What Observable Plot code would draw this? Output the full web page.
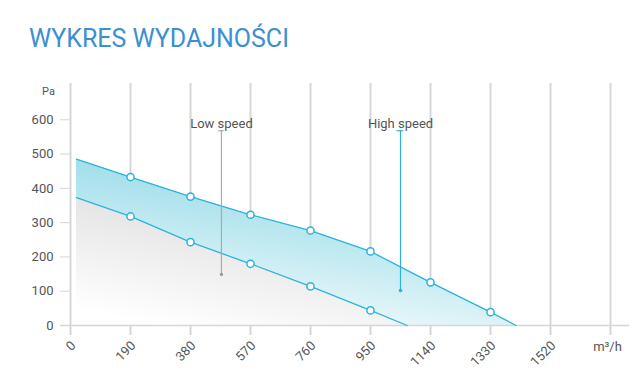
<!DOCTYPE html>
<html>
<head>
<meta charset="utf-8">
<script src="https://cdn.jsdelivr.net/npm/d3@7"></script>
<script src="https://cdn.jsdelivr.net/npm/@observablehq/plot@0.6"></script>
<style>
  html, body { margin: 0; padding: 0; background: #fff; }
  #wrap { position: relative; width: 632px; height: 378px; overflow: hidden; }
  #title { position: absolute; left: 29px; top: 26px; font-family: Roboto, sans-serif; font-size: 25px; line-height: 25px; color: #3b8fd2; font-weight: 400; white-space: nowrap; }
  #chart { position: absolute; left: 0; top: 0; }
</style>
</head>
<body>
<div id="wrap">
  <div id="chart"></div>
  <div id="title">WYKRES WYDAJNOŚCI</div>
</div>
<script>
// Data (flow in m³/h, pressure in Pa)
const highFlow = [19, 190, 380, 570, 760, 950, 1140, 1330, 1411];
const highPa   = [485, 433, 376, 323, 277, 216, 126, 39, 0];
const lowFlow  = [19, 190, 380, 570, 760, 950, 1066];
const lowPa    = [373, 318, 243, 180, 114, 44, 0];
const xTicks = [0, 190, 380, 570, 760, 950, 1140, 1330, 1520];
const yTicks = [0, 100, 200, 300, 400, 500, 600];
const unitX = "m³/h";
const unitY = "Pa";
const labels = [
  {name: "Low speed", flow: 478, pa: 149},
  {name: "High speed", flow: 1045, pa: 102}
];
const labelTopPa = 568;
const labelTextPa = 588;

const high = highFlow.map((f, i) => ({flow: f, pa: highPa[i]}));
const low = lowFlow.map((f, i) => ({flow: f, pa: lowPa[i]}));
const highDots = high.filter(d => xTicks.includes(d.flow) && d.flow > 0);
const lowDots = low.filter(d => xTicks.includes(d.flow) && d.flow > 0);
const gridX = xTicks.concat([1710]);

const cyan = "#2ab4dc";
const grid = "#d6d6d6";
const txt = "#555";

const plot = Plot.plot({
  width: 632,
  height: 378,
  marginLeft: 70,
  marginRight: 22,
  marginTop: 85,
  marginBottom: 53,
  style: {fontFamily: "Roboto, sans-serif", fontSize: "13px", background: "transparent", overflow: "visible"},
  x: {domain: [0, 1710], axis: null},
  y: {domain: [0, 700], axis: null},
  marks: [
    Plot.ruleX(gridX, {x: d => d, y1: 700, y2: 0, stroke: grid, strokeWidth: 2, insetTop: -2, insetBottom: -10}),
    Plot.areaY(high, {x: "flow", y: "pa", fill: "url(#gHigh)"}),
    Plot.areaY(low, {x: "flow", y: "pa", fill: "url(#gLow)"}),
    Plot.ruleY([0], {stroke: grid, strokeWidth: 1.5, insetLeft: -10, insetRight: -19}),
    Plot.axisY({ticks: yTicks, tickSize: 10, tickPadding: 7, stroke: grid, color: txt, fontSize: 13, label: null, tickFormat: d => String(d)}),
    Plot.text([unitY], {x: 0, y: 700, dx: -22, dy: 6, text: d => d, fill: txt, fontSize: 11}),
    Plot.text(xTicks, {x: d => d, y: 0, text: d => String(d), rotate: -45, dx: 3, dy: 18, textAnchor: "end", fill: txt, fontSize: 13}),
    Plot.text([unitX], {x: 1710, y: 0, text: d => d, dx: -3, dy: 21, fill: txt, fontSize: 13}),
    Plot.line(high, {x: "flow", y: "pa", stroke: cyan, strokeWidth: 1.3}),
    Plot.line(low, {x: "flow", y: "pa", stroke: cyan, strokeWidth: 1.3}),
    Plot.dot(highDots, {x: "flow", y: "pa", r: 3.6, fill: "white", stroke: cyan, strokeWidth: 1.5}),
    Plot.dot(lowDots, {x: "flow", y: "pa", r: 3.6, fill: "white", stroke: cyan, strokeWidth: 1.5}),
    // annotation leaders
    Plot.ruleX([labels[0]], {x: "flow", y1: "pa", y2: () => labelTopPa, stroke: "#aaa", strokeWidth: 1.2}),
    Plot.ruleY([labels[0]], {y: () => labelTopPa, x1: d => d.flow - 9, x2: d => d.flow + 9, stroke: "#aaa", strokeWidth: 1.2}),
    Plot.dot([labels[0]], {x: "flow", y: "pa", r: 1.6, fill: "#999"}),
    Plot.ruleX([labels[1]], {x: "flow", y1: "pa", y2: () => labelTopPa, stroke: cyan, strokeWidth: 1.2}),
    Plot.ruleY([labels[1]], {y: () => labelTopPa, x1: d => d.flow - 11, x2: d => d.flow + 11, stroke: cyan, strokeWidth: 1.2}),
    Plot.dot([labels[1]], {x: "flow", y: "pa", r: 1.8, fill: cyan}),
    Plot.text(labels, {x: "flow", y: () => labelTextPa, text: "name", fill: txt, fontSize: 13, textAnchor: "middle"})
  ]
});

// gradient definitions
const svg = d3.select(plot);
const defs = svg.insert("defs", ":first-child");
const gH = defs.append("linearGradient").attr("id", "gHigh")
  .attr("x1", 0.72).attr("y1", 0.15).attr("x2", 0.38).attr("y2", 1.0);
gH.append("stop").attr("offset", 0).attr("stop-color", "#94dae7");
gH.append("stop").attr("offset", 1).attr("stop-color", "#f4fbfc");
const gL = defs.append("linearGradient").attr("id", "gLow")
  .attr("x1", 0.7).attr("y1", 0.1).attr("x2", 0.25).attr("y2", 1.0);
gL.append("stop").attr("offset", 0).attr("stop-color", "#dddddd");
gL.append("stop").attr("offset", 1).attr("stop-color", "#ffffff");

document.getElementById("chart").appendChild(plot);
</script>
</body>
</html>
